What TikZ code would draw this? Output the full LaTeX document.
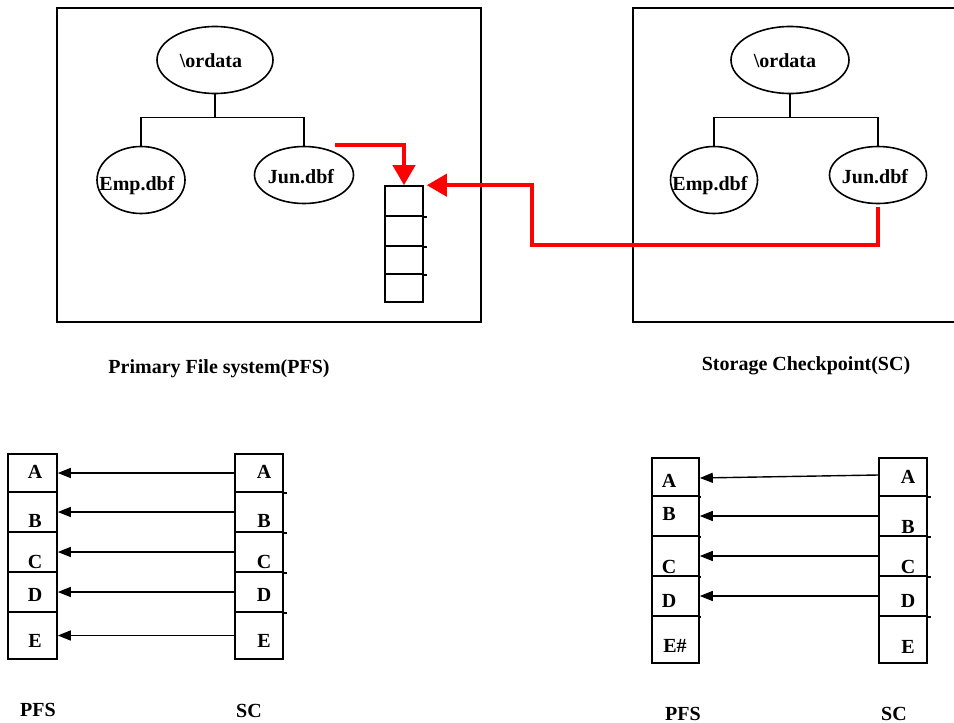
\documentclass[tikz,border=0pt]{standalone}
\usepackage{fontspec}
\setmainfont{Liberation Serif}
\usetikzlibrary{positioning}
\usetikzlibrary{calc}
\usetikzlibrary{arrows.meta}
\usetikzlibrary{shapes.geometric}
\tikzstyle{fsbox} = [draw, rectangle, line width=2.2pt]
\tikzstyle{dir} = [draw, ellipse, line width=1.6pt, inner sep=0pt]
\tikzstyle{lbl} = [font=\fontsize{20}{24}\selectfont\bfseries, anchor=base, inner sep=0pt]
\tikzstyle{cell} = [draw, rectangle, line width=1.6pt, minimum width=48pt]
\tikzstyle{tree} = [line width=1.6pt]
\tikzstyle{redarrow} = [draw=red, line width=4pt, -{Triangle[width=22pt,length=20pt]}]
\tikzstyle{copyarrow} = [line width=1.4pt, -{Triangle[width=10pt,length=13pt]}]

\begin{document}
\begin{tikzpicture}[x=1pt,y=-1pt]
    \useasboundingbox (0,0) rectangle (954,723);

    % primary file system
    \node [fsbox, minimum width=424pt, minimum height=314pt] (pfs) at (269,165) {};
    \node [dir, minimum width=116pt, minimum height=67pt] (lroot) at (215,60) {};
    \node [dir, minimum width=88pt, minimum height=67pt] (lemp) at (141,180) {};
    \node [dir, minimum width=99pt, minimum height=57pt] (ljun) at (304,175) {};
    \node [lbl] (lroott) at (211,67) {\textbackslash ordata};
    \node [lbl] (lempt) at (137,190) {Emp.dbf};
    \node [lbl] (ljunt) at (301,183) {Jun.dbf};
    \draw [tree] (lroot.south) -- ++(0,23) -| (lemp.north);
    \draw [tree] (lroot.south) -- ++(0,23) -| (ljun.north);

    % block list of Jun.dbf
    \foreach \n/\y/\h in {1/201/30, 2/231/30, 3/260/28, 4/288/28}
        \node [cell, minimum width=38pt, minimum height=\h*1pt] (blk\n) at (404,\y) {};
    \foreach \n in {1,2,3}
        \draw [tree] (blk\n.south east) -- ++(3,0);

    % storage checkpoint
    \node [fsbox, minimum width=367pt, minimum height=314pt] (sc) at (816.5,165) {};
    \node [dir, minimum width=118pt, minimum height=67pt] (rroot) at (790,60) {};
    \node [dir, minimum width=87pt, minimum height=67pt] (remp) at (714,180) {};
    \node [dir, minimum width=97pt, minimum height=57pt] (rjun) at (878,175) {};
    \node [lbl] (rroott) at (785,67) {\textbackslash ordata};
    \node [lbl] (rempt) at (710,190) {Emp.dbf};
    \node [lbl] (rjunt) at (875,183) {Jun.dbf};
    \draw [tree] (rroot.south) -- ++(0,23) -| (remp.north);
    \draw [tree] (rroot.south) -- ++(0,23) -| (rjun.north);

    \node [lbl] (pfsname) at (219,373) {Primary File system(PFS)};
    \node [lbl] (scname) at (806,370) {Storage Checkpoint(SC)};

    % red links into the block list
    \coordinate (jtail) at (335,145);
    \coordinate (bend) at (532,245);
    \draw [redarrow] (jtail) -| (blk1.north);
    \draw [redarrow] ([yshift=-3pt]rjun.south) |- (bend) |- ($(blk1.north east)+(3,0)$);

    % before: every block of SC points to PFS
    \foreach \n/\t/\b in {1/454/492, 2/492/532, 3/532/572, 4/572/612, 5/612/659} {
        \node [cell, minimum width=49pt, minimum height=(\b-\t)*1pt] (lp\n) at (32.5,{(\t+\b)/2}) {};
        \node [cell, minimum height=(\b-\t)*1pt] (ls\n) at (259,{(\t+\b)/2}) {};
    }
    \foreach \n in {1,2,3,4}
        \draw [tree] (ls\n.south east) -- ++(3,0);
    \foreach \n/\l/\y in {1/A/478, 2/B/527, 3/C/568, 4/D/601, 5/E/647} {
        \node [lbl] (lpt\n) at (35,\y) {\l};
        \node [lbl] (lst\n) at (264,\y) {\l};
        \draw [copyarrow] (ls\n.west) -- (lp\n.east);
    }
    \node [lbl] (lpfs) at (38,716) {PFS};
    \node [lbl] (lsc) at (249,717) {SC};

    % after: E changed in PFS, its arrow is gone
    \foreach \n/\t/\b in {1/458/496, 2/496/536, 3/536/576, 4/576/616, 5/616/663} {
        \node [cell, minimum width=47pt, minimum height=(\b-\t)*1pt] (rp\n) at (675.5,{(\t+\b)/2}) {};
        \node [cell, minimum height=(\b-\t)*1pt] (rs\n) at (903,{(\t+\b)/2}) {};
    }
    \foreach \n in {1,2,3,4} {
        \draw [tree] (rp\n.south east) -- ++(1,0);
        \draw [tree] (rs\n.south east) -- ++(3,0);
    }
    \node [lbl] (rpt1) at (669,487) {A};
    \node [lbl] (rpt2) at (669,520) {B};
    \node [lbl] (rpt3) at (669,573) {C};
    \node [lbl] (rpt4) at (669,607) {D};
    \node [lbl] (rpt5) at (675,652) {E\#};
    \node [lbl] (rst1) at (908,483) {A};
    \node [lbl] (rst2) at (908,533) {B};
    \node [lbl] (rst3) at (908,573) {C};
    \node [lbl] (rst4) at (908,607) {D};
    \node [lbl] (rst5) at (908,653) {E};
    \draw [copyarrow] ([yshift=2pt]rs1.west) -- ([yshift=-1pt]rp1.east);
    \foreach \n in {2,3,4}
        \draw [copyarrow] (rs\n.west) -- (rp\n.east);
    \node [lbl] (rpfs) at (683,720) {PFS};
    \node [lbl] (rsc) at (894,720) {SC};
\end{tikzpicture}
\end{document}
